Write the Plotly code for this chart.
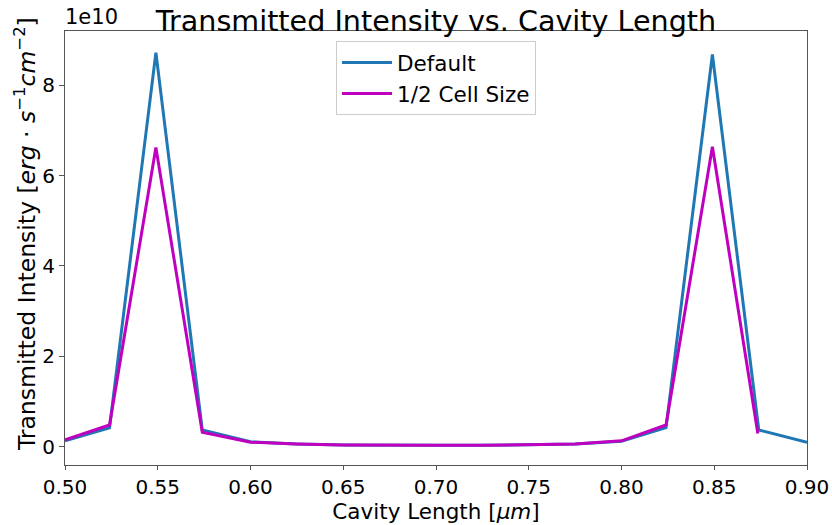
import plotly.graph_objects as go

# Cavity lengths (micrometres)
x_default = [0.500, 0.524, 0.549, 0.574, 0.600, 0.625, 0.650, 0.675, 0.700,
             0.725, 0.750, 0.775, 0.800, 0.824, 0.849, 0.874, 0.900]
x_half = [0.500, 0.524, 0.549, 0.574, 0.600, 0.625, 0.650, 0.675, 0.700,
          0.725, 0.750, 0.775, 0.800, 0.824, 0.849, 0.8735]

# Transmitted intensity (erg s^-1 cm^-2)
y_default = [0.13e10, 0.42e10, 8.72e10, 0.37e10, 0.11e10, 0.06e10, 0.04e10, 0.03e10, 0.03e10,
             0.03e10, 0.04e10, 0.06e10, 0.12e10, 0.42e10, 8.68e10, 0.37e10, 0.10e10]
y_half = [0.15e10, 0.48e10, 6.62e10, 0.32e10, 0.10e10, 0.06e10, 0.04e10, 0.03e10, 0.03e10,
          0.03e10, 0.04e10, 0.06e10, 0.13e10, 0.48e10, 6.64e10, 0.29e10]

x_ticks = [0.50, 0.55, 0.60, 0.65, 0.70, 0.75, 0.80, 0.85, 0.90]
x_ticktext = ["0.50", "0.55", "0.60", "0.65", "0.70", "0.75", "0.80", "0.85", "0.90"]
y_ticks = [0, 2e10, 4e10, 6e10, 8e10]
y_ticktext = ["0", "2", "4", "6", "8"]

FONT = "DejaVu Sans"
AX = "#555555"

fig = go.Figure()
fig.add_trace(go.Scatter(x=x_default, y=y_default, mode="lines", name="Default",
                         line=dict(color="#1f77b4", width=3)))
fig.add_trace(go.Scatter(x=x_half, y=y_half, mode="lines", name="1/2 Cell Size",
                         line=dict(color="#bf00bf", width=3)))

fig.update_layout(
    width=832, height=525,
    margin=dict(l=65, r=25, t=31, b=60, autoexpand=False),
    paper_bgcolor="white", plot_bgcolor="white",
    font=dict(family=FONT, size=20, color="black"),
    title=dict(text="Transmitted Intensity vs. Cavity Length", font=dict(size=28.6),
               x=0.524, xanchor="center", y=1, yref="paper", yanchor="bottom",
               pad=dict(b=0)),
    showlegend=True,
    legend=dict(x=0.5, xanchor="center", y=0.977, yanchor="top",
                bgcolor="white", bordercolor="#cccccc", borderwidth=1,
                font=dict(size=21.5), tracegroupgap=0, itemwidth=50),
    xaxis=dict(range=[0.5, 0.9], tickvals=x_ticks, ticktext=x_ticktext,
               showgrid=False, zeroline=False, showline=True, mirror=True,
               linecolor=AX, linewidth=1, ticks="outside", ticklen=4,
               tickcolor=AX, tickfont=dict(size=20), automargin=False,
               title=dict(text="Cavity Length [<i>μm</i>]", font=dict(size=21.5), standoff=2)),
    yaxis=dict(range=[-0.405e10, 9.2e10], tickvals=y_ticks, ticktext=y_ticktext,
               showgrid=False, zeroline=False, showline=True, mirror=True,
               linecolor=AX, linewidth=1, ticks="outside", ticklen=5,
               tickcolor=AX, tickfont=dict(size=20), automargin=False),
)

fig.add_annotation(text="Transmitted Intensity [<i>erg</i> · <i>s</i><sup>−1</sup><i>cm</i><sup>−2</sup>]",
                   xref="paper", yref="paper", x=0, y=0.532, textangle=-90,
                   xanchor="center", yanchor="middle", xshift=-40,
                   showarrow=False, font=dict(size=23.5))

fig.add_annotation(text="1e10", xref="paper", yref="paper", x=0, y=1,
                   xanchor="left", yanchor="bottom", showarrow=False,
                   font=dict(size=21), xshift=-2)

fig.write_html("out.html")
